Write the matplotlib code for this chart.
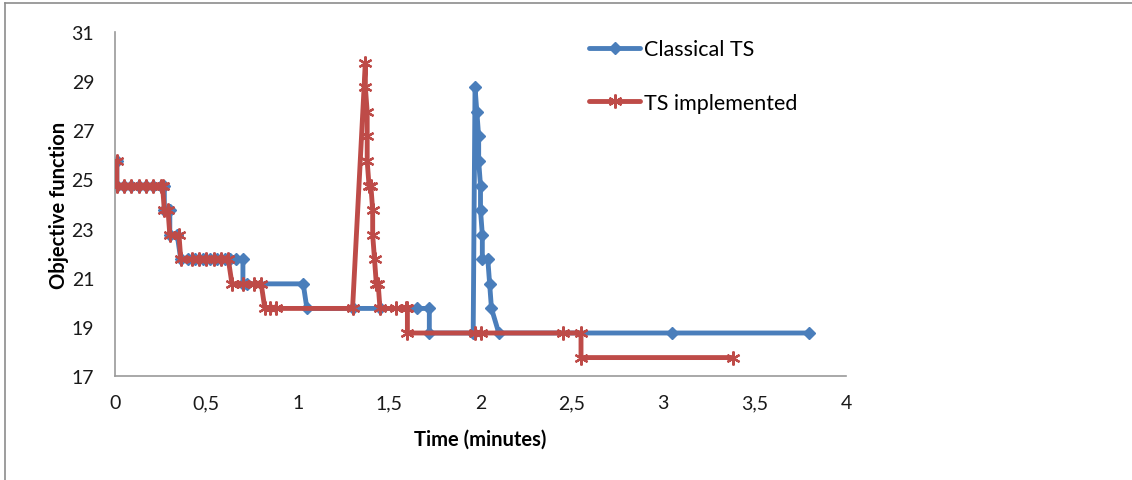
import matplotlib
matplotlib.use("Agg")
import matplotlib.pyplot as plt
from matplotlib.lines import Line2D
from matplotlib.ticker import FuncFormatter

# ---- data ----
classical_x = [0.01, 0.01, 0.05, 0.09, 0.13, 0.17, 0.21, 0.25, 0.27, 0.27, 0.30, 0.30, 0.34,
               0.36, 0.40, 0.44, 0.48, 0.52, 0.56, 0.60, 0.63, 0.66, 0.70, 0.70, 0.72, 1.03,
               1.05, 1.30, 1.45, 1.65, 1.72, 1.72, 1.96, 1.97, 1.98, 1.99, 1.99, 2.00, 2.00,
               2.01, 2.01, 2.04, 2.05, 2.06, 2.10, 3.05, 3.80]
classical_y = [25.75, 24.75, 24.75, 24.75, 24.75, 24.75, 24.75, 24.75, 24.75, 23.75, 23.75,
               22.75, 22.75, 21.75, 21.75, 21.75, 21.75, 21.75, 21.75, 21.75, 21.75, 21.75,
               21.75, 20.75, 20.75, 20.75, 19.75, 19.75, 19.75, 19.75, 19.75, 18.75, 18.75,
               28.75, 27.75, 26.75, 25.75, 24.75, 23.75, 22.75, 21.75, 21.75, 20.75, 19.75,
               18.75, 18.75, 18.75]

implemented_x = [0.01, 0.01, 0.05, 0.09, 0.13, 0.17, 0.21, 0.25, 0.26, 0.27, 0.29, 0.30, 0.35,
                 0.36, 0.42, 0.46, 0.50, 0.54, 0.58, 0.62, 0.64, 0.70, 0.76, 0.80, 0.82, 0.85,
                 0.88, 1.30, 1.37, 1.37, 1.38, 1.38, 1.38, 1.39, 1.40, 1.41, 1.41, 1.42, 1.43,
                 1.44, 1.45, 1.54, 1.59, 1.60, 1.60, 1.97, 2.00, 2.45, 2.55, 2.55, 3.38]
implemented_y = [25.75, 24.75, 24.75, 24.75, 24.75, 24.75, 24.75, 24.75, 24.75, 23.75, 23.75,
                 22.75, 22.75, 21.75, 21.75, 21.75, 21.75, 21.75, 21.75, 21.75, 20.75, 20.75,
                 20.75, 20.75, 19.75, 19.75, 19.75, 19.75, 29.75, 28.75, 27.75, 26.75, 25.75,
                 24.75, 24.75, 23.75, 22.75, 21.75, 20.75, 20.75, 19.75, 19.75, 19.75, 19.75,
                 18.75, 18.75, 18.75, 18.75, 18.75, 17.75, 17.75]

x_ticks = [0, 0.5, 1, 1.5, 2, 2.5, 3, 3.5, 4]
y_ticks = [17, 19, 21, 23, 25, 27, 29, 31]
series_names = ["Classical TS", "TS implemented"]

BLUE = "#4a7ebb"
RED = "#be4b48"

plt.rcParams['font.family'] = ['Lato', 'DejaVu Sans']

W, H = 1132, 481
fig = plt.figure(figsize=(W / 100, H / 100), dpi=100)
ax = fig.add_axes([115 / W, 1 - 377 / H, 731 / W, 344 / H])

LW = 3.5
ax.plot(classical_x, classical_y, color=BLUE, lw=LW, marker='D', ms=6.5,
        mec=BLUE, mfc=BLUE, solid_joinstyle='round', solid_capstyle='round',
        label=series_names[0], zorder=2)
ax.plot(implemented_x, implemented_y, color=RED, lw=LW, marker=(6, 2, 0), ms=10,
        mec=RED, mew=1.6, solid_joinstyle='round', solid_capstyle='round',
        label=series_names[1], zorder=3)

ax.set_xlim(0, 4)
ax.set_ylim(17, 31)
ax.set_xticks(x_ticks)
ax.set_yticks(y_ticks)
ax.xaxis.set_major_formatter(FuncFormatter(lambda v, p: ('%g' % v).replace('.', ',')))
ax.tick_params(length=0, labelsize=14, colors='#1a1a1a')
ax.tick_params(axis='x', pad=13)
ax.tick_params(axis='y', pad=15)
for s in ['top', 'right']:
    ax.spines[s].set_visible(False)
for s in ['left', 'bottom']:
    ax.spines[s].set_color('#9a9a9a')
    ax.spines[s].set_linewidth(1.2)

ax.set_xlabel("Time (minutes)", fontsize=14.5, fontweight='bold', labelpad=13)
ax.set_ylabel("Objective function", fontsize=14.5, fontweight='bold', labelpad=2)

handles = [Line2D([], [], color=BLUE, lw=LW, marker='D', ms=6.5, solid_capstyle='round'),
           Line2D([], [], color=RED, lw=LW, marker=(6, 2, 0), ms=10, mew=1.6,
                  solid_capstyle='round')]
leg = fig.legend(handles, series_names, loc='upper left',
                 bbox_to_anchor=(570 / W, 1 - 21 / H), frameon=False,
                 fontsize=15.5, labelspacing=1.55, handlelength=2.35, handletextpad=0.2)

# outer chart-area border (left and top visible)
fig.add_artist(Line2D([5 / W, 5 / W], [0, 1 - 4 / H], transform=fig.transFigure,
                      color='#8c8c8c', lw=1.2))
fig.add_artist(Line2D([5 / W, 1], [1 - 4 / H, 1 - 4 / H], transform=fig.transFigure,
                      color='#8c8c8c', lw=1.2))

fig.savefig("out.png", dpi=100)
